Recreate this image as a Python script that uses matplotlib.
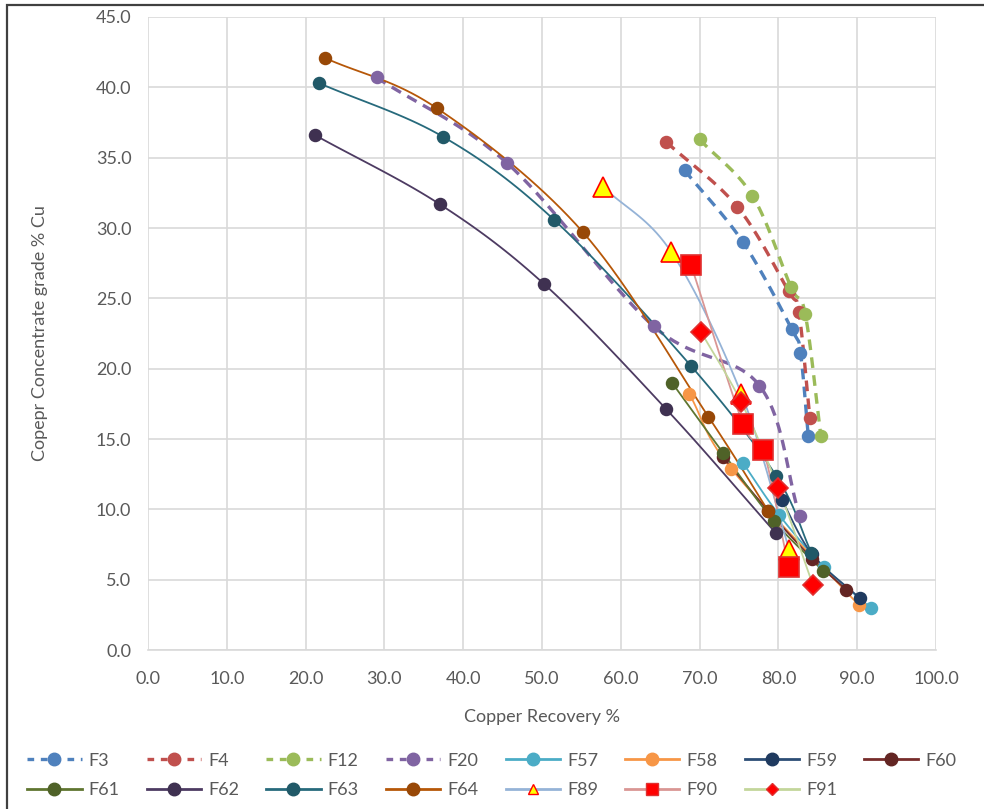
# -*- coding: utf-8 -*-

import numpy as np
import matplotlib
matplotlib.use("Agg")
import matplotlib.pyplot as plt
from matplotlib.patches import Rectangle

# --------------------
# データ (回収率 %, 品位 % Cu)
# --------------------
names = ["F3", "F4", "F12", "F20", "F57", "F58", "F59", "F60",
         "F61", "F62", "F63", "F64", "F89", "F90", "F91"]

f3_x = [68.1, 75.5, 81.7, 82.8, 83.8]
f3_y = [34.1, 29.0, 22.8, 21.1, 15.2]
f4_x = [65.8, 74.8, 81.3, 82.6, 84.0]
f4_y = [36.1, 31.5, 25.5, 24.0, 16.5]
f12_x = [70.0, 76.7, 81.6, 83.4, 85.4]
f12_y = [36.3, 32.3, 25.8, 23.9, 15.2]
f20_x = [29.0, 45.6, 64.2, 77.6, 82.7]
f20_y = [40.7, 34.6, 23.0, 18.8, 9.5]
f57_x = [75.5, 80.1, 85.8, 91.7]
f57_y = [13.3, 9.6, 5.9, 3.0]
f58_x = [68.7, 74.0, 90.2]
f58_y = [18.2, 12.9, 3.2]
f59_x = [80.4, 84.3, 90.3]
f59_y = [10.7, 6.8, 3.7]
f60_x = [73.0, 78.7, 84.3, 88.6]
f60_y = [13.7, 9.9, 6.5, 4.3]
f61_x = [66.5, 73.0, 79.4, 85.7]
f61_y = [19.0, 14.0, 9.2, 5.6]
f62_x = [21.2, 37.0, 50.3, 65.8, 79.7]
f62_y = [36.6, 31.7, 26.0, 17.1, 8.3]
f63_x = [21.7, 37.4, 51.5, 68.9, 79.7, 84.2]
f63_y = [40.3, 36.5, 30.6, 20.2, 12.4, 6.9]
f64_x = [22.4, 36.7, 55.2, 71.1, 78.7]
f64_y = [42.1, 38.5, 29.7, 16.6, 9.9]
f89_x = [57.8, 66.4, 75.3, 81.4]
f89_y = [32.9, 28.3, 18.2, 7.1]
f90_x = [68.9, 75.5, 78.1, 81.3]
f90_y = [27.4, 16.1, 14.2, 5.9]
f91_x = [70.2, 75.3, 80.0, 84.4]
f91_y = [22.6, 17.6, 11.5, 4.6]

xs = [f3_x, f4_x, f12_x, f20_x, f57_x, f58_x, f59_x, f60_x,
      f61_x, f62_x, f63_x, f64_x, f89_x, f90_x, f91_x]
ys = [f3_y, f4_y, f12_y, f20_y, f57_y, f58_y, f59_y, f60_y,
      f61_y, f62_y, f63_y, f64_y, f89_y, f90_y, f91_y]

x_ticks = np.arange(0, 101, 10)
y_ticks = np.arange(0, 46, 5)

# --------------------
# 系列ごとのスタイル
# --------------------
line_colors = ["#4F81BD", "#C0504D", "#9BBB59", "#8064A2", "#4BACC6", "#F79646",
               "#2C4D75", "#772C2A", "#5F7530", "#4D3B62", "#276A7C", "#B65708",
               "#95B3D7", "#D99694", "#C3D69B"]
marker_colors = ["#4F81BD", "#C0504D", "#9BBB59", "#8064A2", "#4BACC6", "#F79646",
                 "#1F3A5F", "#632523", "#4F6228", "#3F3151", "#215968", "#984807",
                 "#FFFF00", "#FF0000", "#FF0000"]
marker_edges = [None] * 12 + ["#FF0000", "#E03030", "#E03030"]
markers = ["o"] * 12 + ["^", "s", "D"]
marker_sizes = [8.5] * 12 + [15, 14, 10]
legend_sizes = [9] * 12 + [7, 8, 6]
dashed = [True] * 4 + [False] * 11


def smooth(x, y, n=20):
    # Catmull-Rom で線だけを滑らかにする (Excel の「滑らかな線」風)
    x = np.asarray(x, float)
    y = np.asarray(y, float)
    if len(x) < 3:
        return x, y
    px = np.concatenate([[2 * x[0] - x[1]], x, [2 * x[-1] - x[-2]]])
    py = np.concatenate([[2 * y[0] - y[1]], y, [2 * y[-1] - y[-2]]])
    out_x, out_y = [], []
    t = np.linspace(0, 1, n)
    for i in range(1, len(px) - 2):
        for p, out in ((px, out_x), (py, out_y)):
            p0, p1, p2, p3 = p[i - 1], p[i], p[i + 1], p[i + 2]
            v = 0.5 * ((2 * p1) + (-p0 + p2) * t
                       + (2 * p0 - 5 * p1 + 4 * p2 - p3) * t ** 2
                       + (-p0 + 3 * p1 - 3 * p2 + p3) * t ** 3)
            out.extend(v)
    return np.array(out_x), np.array(out_y)


plt.rcParams["font.family"] = ["Lato", "DejaVu Sans"]
text_color = "#595959"

fig = plt.figure(figsize=(9.84, 8.09), dpi=100)
ax = fig.add_axes([0.1504, 0.1965, 0.8008, 0.7825])

handles = []
for i in range(len(names)):
    sx, sy = smooth(xs[i], ys[i])
    if dashed[i]:
        ax.plot(sx, sy, color=line_colors[i], lw=2.4, ls=(0, (3.2, 2.2)),
                zorder=3, solid_capstyle="butt")
    else:
        ax.plot(sx, sy, color=line_colors[i], lw=1.3, zorder=3)
    mec = marker_edges[i] if marker_edges[i] else marker_colors[i]
    ax.plot(xs[i], ys[i], ls="none", marker=markers[i], ms=marker_sizes[i],
            mfc=marker_colors[i], mec=mec, mew=1.2, zorder=4)
    # 凡例用のハンドル
    h, = ax.plot([], [], color=line_colors[i], lw=2.4 if dashed[i] else 2.0,
                 ls=(0, (2.0, 2.0)) if dashed[i] else "-",
                 marker=markers[i], ms=legend_sizes[i],
                 mfc=marker_colors[i], mec=mec, mew=1.0)
    handles.append(h)

ax.set_xlim(0, 100)
ax.set_ylim(0, 45)
ax.set_xticks(x_ticks)
ax.set_yticks(y_ticks)
ax.set_xticklabels(["%.1f" % v for v in x_ticks])
ax.set_yticklabels(["%.1f" % v for v in y_ticks])
ax.tick_params(axis="x", length=0, labelsize=13, colors=text_color, pad=15)
ax.tick_params(axis="y", length=0, labelsize=13, colors=text_color, pad=12)
ax.grid(True, color="#D9D9D9", lw=1.2)
ax.set_axisbelow(True)
for side in ["top", "right", "left"]:
    ax.spines[side].set_visible(False)
ax.spines["bottom"].set_color("#D9D9D9")
ax.spines["bottom"].set_linewidth(1.2)

ax.set_xlabel("Copper Recovery %", fontsize=13, color=text_color, labelpad=16)
ax.set_ylabel("Copepr Concentrate grade % Cu", fontsize=13, color=text_color,
              labelpad=34)

# 凡例は横方向に並べる (matplotlib は列方向に詰めるので順番を入れ替える)
ncol = 8
order = []
for j in range(ncol):
    for k in (j, j + ncol):
        if k < len(names):
            order.append(k)
fig.legend([handles[k] for k in order], [names[k] for k in order],
           loc="lower center", bbox_to_anchor=(0.5, 0.0),
           ncol=ncol, frameon=False, fontsize=13, labelcolor=text_color,
           handlelength=3.0, handletextpad=0.4, columnspacing=1.5,
           borderaxespad=0.2, labelspacing=0.75)

# 外枠
fig.patches.append(Rectangle((0.007, -0.1), 1.2, 1.094, transform=fig.transFigure,
                             fill=False, ec="#404040", lw=1.6))

fig.savefig("out.png", dpi=100)
